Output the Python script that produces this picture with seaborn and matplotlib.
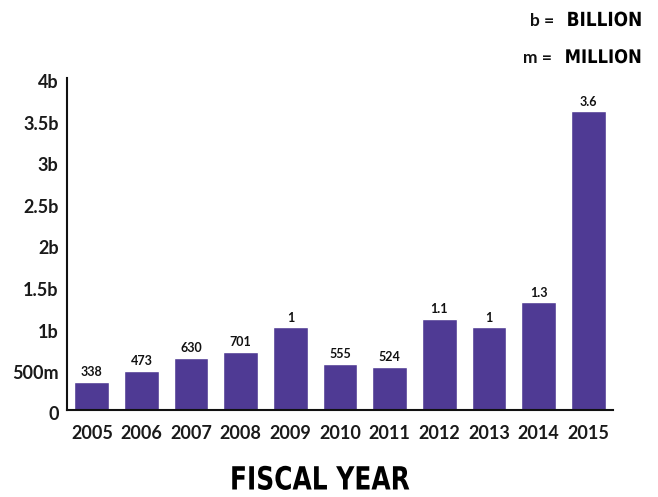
import matplotlib
matplotlib.use("Agg")
import matplotlib.pyplot as plt
import seaborn as sns
import pandas as pd
from matplotlib.patheffects import AbstractPathEffect
from matplotlib.transforms import Affine2D, ScaledTranslation

years = ["2005", "2006", "2007", "2008", "2009", "2010", "2011", "2012", "2013", "2014", "2015"]
values_b = [0.338, 0.473, 0.630, 0.701, 1.0, 0.555, 0.524, 1.1, 1.0, 1.3, 3.6]
bar_labels = ["338", "473", "630", "701", "1", "555", "524", "1.1", "1", "1.3", "3.6"]
ytick_vals = [0, 0.5, 1, 1.5, 2, 2.5, 3, 3.5, 4]
ytick_labels = ["0", "500m", "1b", "1.5b", "2b", "2.5b", "3b", "3.5b", "4b"]


class Condense(AbstractPathEffect):
    """Squeeze glyphs horizontally around a display x anchor (keeps text as text)."""
    def __init__(self, sx, cx):
        super().__init__()
        self.sx = sx
        self.cx = cx

    def draw_path(self, renderer, gc, tpath, affine, rgbFace=None):
        t = affine + Affine2D().translate(-self.cx, 0).scale(self.sx, 1).translate(self.cx, 0)
        renderer.draw_path(gc, tpath, t, rgbFace)


df = pd.DataFrame({"year": years, "value": values_b})

sns.set_theme(style="white")
plt.rcParams["font.family"] = ["Lato", "DejaVu Sans"]

W, H = 658, 497
fig = plt.figure(figsize=(W / 100, H / 100), dpi=100)
ax = fig.add_axes([67/W, 87/H, (613-67)/W, (410-78)/H])

color = "#4F3A94"
sns.barplot(data=df, x="year", y="value", color=color, width=0.7, saturation=1, ax=ax)

ax.set_xlim(-0.5, len(years) - 0.5)
ax.set_ylim(0, 3.99)
ax.set_yticks(ytick_vals)
ax.set_yticklabels(ytick_labels, fontsize=13, fontweight="bold", color="#1a1a1a")
ax.set_xticks(range(len(years)))
ax.set_xticklabels(years, fontsize=13, fontweight="bold", color="#1a1a1a")
ax.tick_params(axis="both", length=0)
ax.tick_params(axis="y", pad=6)
ax.tick_params(axis="x", pad=11)
ax.set_xlabel("")
ax.set_ylabel("")

# y labels sit a few pixels below their value in the reference
shift = ScaledTranslation(0, -3.5 / 100, fig.dpi_scale_trans)
for lbl in ax.get_yticklabels():
    lbl.set_transform(lbl.get_transform() + shift)

for s in ["top", "right"]:
    ax.spines[s].set_visible(False)
for s in ["left", "bottom"]:
    ax.spines[s].set_color("#111111")
    ax.spines[s].set_linewidth(1.5)

for i, (v, lab) in enumerate(zip(values_b, bar_labels)):
    ax.annotate(lab, (i, v), xytext=(0, 2.5), textcoords="offset points",
                ha="center", va="bottom", fontsize=9, fontweight="bold", color="#111111")

heavy = ["DejaVu Sans"]
fx = 320
fig.text(fx / W, 1 - 489.5 / H, "FISCAL YEAR", ha="center", va="baseline",
         fontsize=23, fontweight="bold", family=heavy, color="#000000",
         path_effects=[Condense(0.78, fx)])

rx = 642
fig.text(rx / W, 1 - 26 / H, "BILLION", ha="right", va="baseline", fontsize=14,
         fontweight="bold", family=heavy, color="#000000",
         path_effects=[Condense(0.87, rx)])
fig.text(rx / W, 1 - 63 / H, "MILLION", ha="right", va="baseline", fontsize=13.5,
         fontweight="bold", family=heavy, color="#000000",
         path_effects=[Condense(0.875, rx)])
fig.text(554 / W, 1 - 26 / H, "b =", ha="right", va="baseline", fontsize=12.5,
         fontweight="bold", color="#111111")
fig.text(552 / W, 1 - 63 / H, "m =", ha="right", va="baseline", fontsize=12.5,
         fontweight="bold", color="#111111")

fig.savefig("out.png", dpi=100, facecolor="white")
